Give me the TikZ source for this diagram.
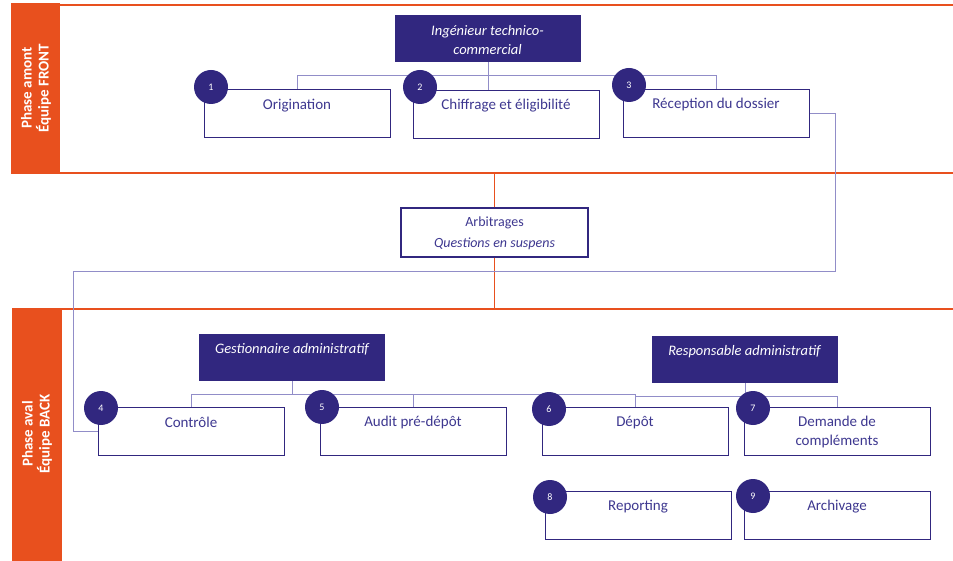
\documentclass[tikz,border=0pt]{standalone}
\usepackage{fontspec}
\setmainfont{Carlito}
\definecolor{navy}{HTML}{31277F}
\definecolor{txt}{HTML}{3E3890}
\definecolor{org}{HTML}{E8501E}
\definecolor{conn}{HTML}{918DC8}
\tikzset{
  box/.style={draw=navy, line width=1.2pt, fill=white, minimum width=186pt, minimum height=48pt, anchor=north west, inner sep=0pt},
  boss/.style={fill=navy, minimum width=186pt, minimum height=47pt, anchor=north west, inner sep=0pt},
  bosstxt/.style={text=white, font=\fontsize{14.5}{19}\selectfont\itshape, align=center},
  btxt/.style={text=txt, font=\fontsize{15}{19}\selectfont, align=center},
  num/.style={circle, fill=navy, minimum size=34pt, inner sep=0pt, text=white, font=\fontsize{10}{12}\selectfont},
  conline/.style={draw=conn, line width=1pt},
  band/.style={draw=org, line width=2pt},
  bandlbl/.style={rotate=90, text=white, font=\fontsize{15}{17}\selectfont\bfseries, align=center},
  thinorg/.style={draw=org, line width=1pt}
}
\begin{document}
\begin{tikzpicture}[x=1pt,y=-1pt]
\useasboundingbox (0,0) rectangle (953,561);
% bands
\fill[org] (11,3) rectangle (60,173);
\draw[band] (60,5) -- (953,5);
\draw[band] (11,173) -- (953,173);
\node[bandlbl] (lblA) at (36,88) {Phase amont\\Équipe FRONT};
\fill[org] (12,308) rectangle (62,561);
\draw[band] (12,309) -- (953,309);
\node[bandlbl] (lblB) at (37,434) {Phase aval\\Équipe BACK};
\coordinate (sepA) at (0,173);
\coordinate (sepB) at (0,309);
\coordinate (bus1) at (0,76);
\coordinate (bus2) at (0,394);
\coordinate (bus3) at (0,396);
\coordinate (fb1) at (835,272);
\coordinate (fb2) at (73,272);

% top boss
\node[boss] (boss1) at (395,15) {};
\node[bosstxt] (boss1t) at (487.5,40) {Ingénieur technico-\\commercial};

% top boxes
\node[box] (b1) at (204,89) {};
\node[box] (b2) at (413,90) {};
\node[box] (b3) at (623,89) {};
\draw[conline] (boss1.south) -- (boss1.south |- b2.north);
\draw[conline] (b1.north) -- (b1.north |- bus1) -| (boss1.south);
\draw[conline] (b3.north) -- (b3.north |- bus1) -| (boss1.south);
\node[btxt] (b1t) at (297,105.5) {Origination};
\node[btxt] (b2t) at (506,105.5) {Chiffrage et éligibilité};
\node[btxt] (b3t) at (716,104.5) {Réception du dossier};
\node[num] (c1) at (211,87) {1};
\node[num] (c2) at (420,87) {2};
\node[num] (c3) at (629,85) {3};

% arbitrages
\node[box, anchor=center, minimum height=49pt, minimum width=187pt] (arb) at (494.5,232.5) {};
\node[btxt, font=\fontsize{14}{21}\selectfont] (arbt) at (494.5,233) {Arbitrages\\\textit{Questions en suspens}};
\draw[thinorg] (arb.north) -- (arb.north |- sepA);
\draw[thinorg] (arb.south) -- (arb.south |- sepB);

% bottom bosses
\node[boss] (boss2) at (199,334) {};
\node[bosstxt] (boss2t) at (292,349) {Gestionnaire administratif};
\node[boss] (boss3) at (652,336) {};
\node[bosstxt] (boss3t) at (744.5,351.5) {Responsable administratif};

% bottom boxes
\node[box] (b4) at (98,407) {};
\node[box] (b5) at (320,407) {};
\node[box] (b6) at (542,407) {};
\node[box] (b7) at (744,407) {};
\node[box] (b8) at (545,491) {};
\node[box] (b9) at (744,491) {};

% feedback connector
\draw[conline] (b3.east) -| (fb1) -- (fb2) |- (b4.west);

\draw[conline] (b4.north) -- (b4.north |- bus2) -| (boss2.south);
\draw[conline] (b5.north) -- (b5.north |- bus2);
\draw[conline] (b6.north) -- (b6.north |- bus2) -| (boss2.south);
\draw[conline] (b6.north) -- (b6.north |- bus3) -| (boss3.south);
\draw[conline] (b7.north) -- (b7.north |- bus3) -| (boss3.south);

\node[btxt] (b4t) at (191,422.5) {Contrôle};
\node[btxt] (b5t) at (413,422.5) {Audit pré-dépôt};
\node[btxt] (b6t) at (635,422.5) {Dépôt};
\node[btxt] (b7t) at (837,431.5) {Demande de\\compléments};
\node[btxt] (b8t) at (638,506.5) {Reporting};
\node[btxt] (b9t) at (837,506.5) {Archivage};
\node[num] (c4) at (101,408) {4};
\node[num] (c5) at (322,407) {5};
\node[num] (c6) at (549,409) {6};
\node[num] (c7) at (753,408) {7};
\node[num] (c8) at (550,497) {8};
\node[num] (c9) at (753,496) {9};
\end{tikzpicture}
\end{document}
